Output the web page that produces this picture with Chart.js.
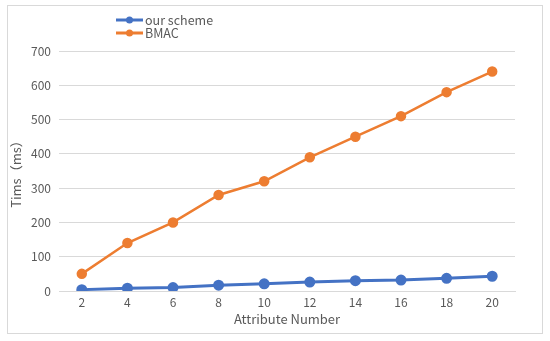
<!DOCTYPE html>
<html>
<head>
<meta charset="utf-8">
<script src="https://cdn.jsdelivr.net/npm/chart.js@4/dist/chart.umd.min.js"></script>
<style>
  html, body { margin: 0; padding: 0; background: #fff; }
  #box {
    position: absolute; left: 7px; top: 5px;
    width: 534px; height: 327px;
    border: 1px solid #d9d9d9; background: #fff;
  }
</style>
</head>
<body>
<div id="box"><canvas id="chart"></canvas></div>
<script>
// --- данные ---
const attributeNumbers = ['2', '4', '6', '8', '10', '12', '14', '16', '18', '20'];
const ourScheme = [4, 8, 10, 17, 21, 26, 30, 32, 37, 43];
const bmac = [50, 140, 200, 280, 320, 390, 450, 510, 580, 640];
const yTicks = [0, 100, 200, 300, 400, 500, 600, 700];

const FONT = "'Noto Sans CJK SC', 'Noto Sans', sans-serif";
const TEXT = '#595959';
const GRID = '#d9d9d9';

// legend drawn by hand: two rows stacked, line + marker + text
const stackedLegend = {
  id: 'stackedLegend',
  afterDraw(chart) {
    const ctx = chart.ctx;
    const x0 = 108, y0 = 14, rowH = 13;
    ctx.save();
    chart.data.datasets.forEach((ds, i) => {
      const y = y0 + i * rowH;
      ctx.strokeStyle = ds.borderColor;
      ctx.lineWidth = 3;
      ctx.beginPath();
      ctx.moveTo(x0, y);
      ctx.lineTo(x0 + 27, y);
      ctx.stroke();
      ctx.fillStyle = ds.borderColor;
      ctx.beginPath();
      ctx.arc(x0 + 13.5, y, 3.5, 0, Math.PI * 2);
      ctx.fill();
      ctx.fillStyle = TEXT;
      ctx.font = '12.5px ' + FONT;
      ctx.textBaseline = 'middle';
      ctx.textAlign = 'left';
      ctx.fillText(ds.label, x0 + 29, y);
    });
    ctx.restore();
  }
};

new Chart(document.getElementById('chart'), {
  type: 'line',
  data: {
    labels: attributeNumbers,
    datasets: [
      {
        label: 'our scheme',
        data: ourScheme,
        borderColor: '#4472C4',
        backgroundColor: '#4472C4',
        borderWidth: 3,
        pointRadius: 4,
        pointHoverRadius: 4,
        tension: 0
      },
      {
        label: 'BMAC',
        data: bmac,
        borderColor: '#ED7D31',
        backgroundColor: '#ED7D31',
        borderWidth: 2.5,
        pointRadius: 4,
        pointHoverRadius: 4,
        tension: 0
      }
    ]
  },
  options: {
    responsive: true,
    maintainAspectRatio: false,
    animation: false,
    layout: { padding: { top: 45, right: 27, bottom: 2, left: 0 } },
    plugins: {
      legend: { display: false },
      tooltip: { enabled: false }
    },
    scales: {
      x: {
        offset: true,
        afterFit: (scale) => { scale.height = 40; },
        grid: { display: false, drawTicks: false },
        border: { color: GRID },
        ticks: { color: TEXT, font: { family: FONT, size: 12 }, padding: 4 },
        title: {
          display: true, text: 'Attribute Number', color: TEXT,
          font: { family: FONT, size: 13 }, padding: { top: 0, bottom: 4 }
        }
      },
      y: {
        min: 0, max: 700,
        afterBuildTicks: (scale) => { scale.ticks = yTicks.map(v => ({ value: v })); },
        afterFit: (scale) => { scale.width = 51; },
        grid: { color: GRID, drawTicks: false },
        border: { display: false },
        ticks: { color: TEXT, font: { family: FONT, size: 12 }, padding: 8 },
        title: {
          display: true, text: 'Tims（ms）', color: TEXT,
          font: { family: FONT, size: 13 }, padding: { top: 0, bottom: 4 }
        }
      }
    }
  },
  plugins: [stackedLegend]
});
</script>
</body>
</html>
